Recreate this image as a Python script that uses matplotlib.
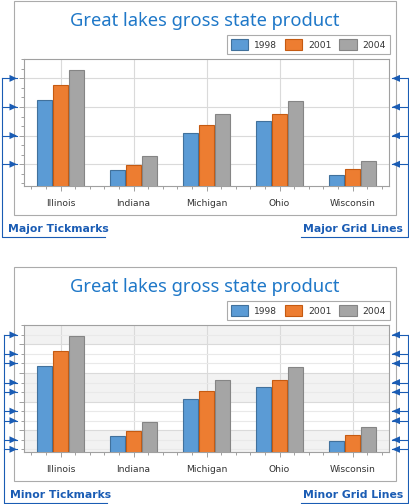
import numpy as np
import matplotlib.pyplot as plt
from matplotlib.patches import Rectangle, Polygon
from matplotlib.ticker import MultipleLocator, FixedLocator

states = ["Illinois", "Indiana", "Michigan", "Ohio", "Wisconsin"]
years = ["1998", "2001", "2004"]
gsp_1998 = [324, 79, 208, 250, 62]
gsp_2001 = [376, 98, 236, 274, 83]
gsp_2004 = [428, 129, 274, 320, 110]

title = "Great lakes gross state product"
left_notes = ["Major Tickmarks", "Minor Tickmarks"]
right_notes = ["Major Grid Lines", "Minor Grid Lines"]

fill = ["#5B9BD5", "#ED7D31", "#A5A5A5"]
edge = ["#41719C", "#C55A11", "#858585"]
note_blue = "#1A5CB4"
W, H = 409, 504

fig = plt.figure(figsize=(W / 100, H / 100), dpi=100)
over = fig.add_axes([0, 0, 1, 1], zorder=5)
over.set_xlim(0, W)
over.set_ylim(H, 0)
over.axis("off")


def px_rect(x0, y0, x1, y1):
    return [x0 / W, 1 - y1 / H, (x1 - x0) / W, (y1 - y0) / H]


def to_over(ax, x, y):
    d = ax.transData.transform((x, y))
    return over.transData.inverted().transform(d)


def chart(dy, minor, left_note, right_note, xl):
    # outer frame and title
    over.add_patch(Rectangle((13.5, 0.5 + dy), 382.5, 214.5, fill=False,
                             edgecolor="#ABABAB", lw=0.8))
    over.text(205, 25.7 + dy, title, ha="center", va="baseline",
              fontsize=13.2, family="Noto Sans", color="#1F78C8")

    ax = fig.add_axes(px_rect(24, 59.3 + dy, 389, 186 + dy))
    x = np.arange(len(states))
    for i, vals in enumerate([gsp_1998, gsp_2001, gsp_2004]):
        ax.bar(x + (i - 1) * 0.222, vals, width=0.2, color=fill[i],
               edgecolor=edge[i], linewidth=0.8, label=years[i], zorder=3)
    ax.set_xlim(-0.5, 4.5)
    ax.set_ylim(24, 466.7)
    ax.xaxis.set_major_locator(FixedLocator(x))
    ax.xaxis.set_minor_locator(MultipleLocator(0.2))
    ax.yaxis.set_major_locator(MultipleLocator(100))
    ax.yaxis.set_minor_locator(MultipleLocator(100 / 3))
    ax.set_xticklabels(states)
    ax.tick_params(which="both", direction="out", color="#A0A0A0",
                   labelleft=False, labelsize=6.6, labelcolor="#333333", pad=5.5)
    ax.tick_params(which="major", length=3.6, width=0.7)
    ax.tick_params(which="minor", length=2.2, width=0.7)
    for s in ax.spines.values():
        s.set_color("#A0A0A0")
        s.set_linewidth(0.8)
    ax.set_axisbelow(True)
    ax.grid(which="major", color="#DADADA", lw=0.8)

    lo, hi = ax.get_ylim()
    majors = [t for t in ax.yaxis.get_majorticklocs() if lo + 1 < t < hi - 1]
    minors = [t for t in ax.yaxis.get_minorticklocs() if lo + 1 < t < hi - 1]
    if minor:
        ax.grid(which="minor", axis="y", color="#E9E9E9", lw=0.8)
        edges = [lo] + majors + [hi]
        for k in range(0, len(edges) - 1, 2):
            ax.axhspan(edges[k], edges[k + 1], color="#F2F2F2", zorder=0, lw=0)
        marks = minors
    else:
        marks = majors

    ax.legend(loc="upper right", bbox_to_anchor=(390 / W, 1 - (35 + dy) / H),
              bbox_transform=fig.transFigure, ncol=3, frameon=True,
              fancybox=False, edgecolor="#ABABAB", framealpha=1,
              fontsize=6.6, handlelength=1.9, handleheight=1.45,
              handletextpad=0.6, columnspacing=0.9, borderpad=0.45,
              borderaxespad=0, labelcolor="#333333").get_frame().set_linewidth(0.8)

    # arrows pointing at tickmarks (left) and grid lines (right)
    ys = [to_over(ax, 0, v)[1] for v in marks]
    base = 237 + dy
    for y in ys:
        over.plot([xl, 17], [y, y], color=note_blue, lw=0.8)
        over.add_patch(Polygon([(9.5, y - 3.5), (9.5, y + 3.5), (17, y)],
                               color=note_blue, lw=0))
        over.plot([408, 392], [y, y], color=note_blue, lw=0.8)
        over.add_patch(Polygon([(400, y - 3.5), (400, y + 3.5), (392, y)],
                               color=note_blue, lw=0))
    over.plot([xl, xl, xl + 103], [min(ys), base, base], color=note_blue, lw=0.8)
    over.plot([408, 408, 301], [min(ys), base, base], color=note_blue, lw=0.8)
    over.text(xl + 7, 232.5 + dy, left_note, fontweight="bold", fontsize=7.8,
              color=note_blue, va="baseline")
    over.text(302.7, 232.5 + dy, right_note, fontweight="bold", fontsize=7.8,
              color=note_blue, va="baseline")


chart(0, False, left_notes[0], right_notes[0], 1.5)
chart(266, True, left_notes[1], right_notes[1], 3.5)

fig.savefig("out.png", dpi=100)
